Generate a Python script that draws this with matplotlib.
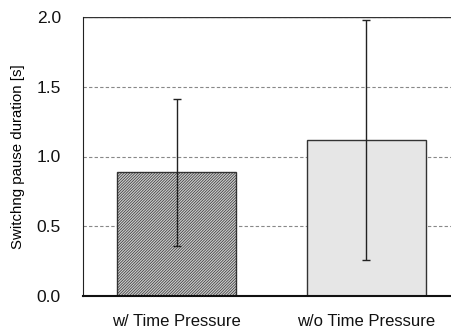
import numpy as np
import matplotlib.pyplot as plt

plt.rcParams['font.family'] = ['Liberation Sans', 'DejaVu Sans']
plt.rcParams['hatch.linewidth'] = 0.5
plt.rcParams['hatch.color'] = '#6e6e6e'

categories = ['w/ Time Pressure', 'w/o Time Pressure']
means = [0.89, 1.12]
err_low = [0.36, 0.26]
err_high = [1.41, 1.98]

x = np.arange(len(categories))
yerr = np.array([[m - lo for m, lo in zip(means, err_low)],
                 [hi - m for m, hi in zip(means, err_high)]])

fig = plt.figure(figsize=(4.52, 3.29), dpi=100)
ax = fig.add_axes([83/452, 33/329, (452-83)/452 + 0.02, (296-17)/329])

ax.yaxis.grid(True, color='#888888', linestyle=(0, (3, 2)), linewidth=0.8)
ax.set_axisbelow(True)

bars = ax.bar(x, means, width=0.63, edgecolor='#333333', linewidth=1.0,
              color=['#cccccc', '#e6e6e6'], zorder=2)
bars[0].set_hatch('////////////')
bars[0].set_edgecolor('#333333')
ax.errorbar(x, means, yerr=yerr, fmt='none', ecolor='#222222',
            elinewidth=1.0, capsize=3, capthick=1.0, zorder=3)

ax.set_xlim(-0.495, 1.5)
ax.set_ylim(0, 2.0)
ax.set_yticks([0, 0.5, 1.0, 1.5, 2.0])
ax.set_yticklabels(['0.0', '0.5', '1.0', '1.5', '2.0'])
ax.set_xticks(x)
ax.set_xticklabels(categories)
ax.tick_params(axis='both', length=0, colors='#111111')
ax.tick_params(axis='x', pad=13, labelsize=12)
ax.tick_params(axis='y', pad=16, labelsize=12.5)
ax.set_ylabel('Switchng pause duration [s]', fontsize=10.8, labelpad=8)

ax.spines['right'].set_visible(False)
ax.spines['top'].set_visible(False)
ax.spines['left'].set_color('#222222')
ax.spines['bottom'].set_color('#111111')
ax.spines['bottom'].set_linewidth(1.5)
ax.axhline(2.0, color='#333333', linewidth=1.0, zorder=1)

fig.savefig('out.png', dpi=100)
